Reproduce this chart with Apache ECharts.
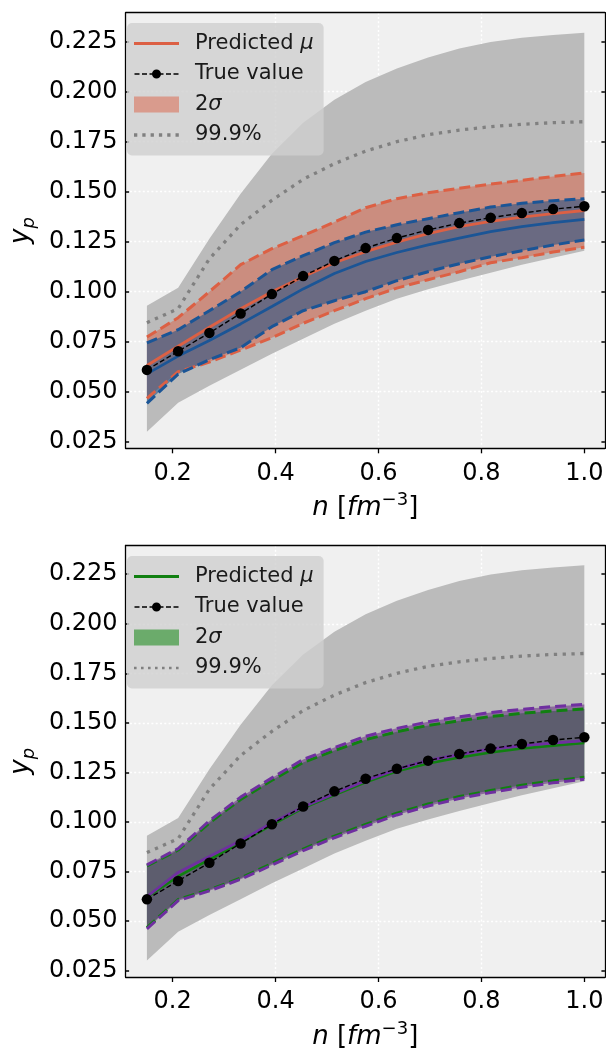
<!DOCTYPE html>
<html>
<head>
<meta charset="utf-8">
<script src="https://cdn.jsdelivr.net/npm/echarts@6/dist/echarts.min.js"></script>
<style>
  html, body { margin: 0; padding: 0; background: #ffffff; }
  #chart { width: 606px; height: 1051px; }
</style>
</head>
<body>
<div id="chart"></div>
<script>
// ---------------- data ----------------
const nValues = [0.15, 0.2107, 0.2714, 0.3321, 0.3929, 0.4536, 0.5143, 0.575, 0.6357, 0.6964, 0.7571, 0.8179, 0.8786, 0.9393, 1.0];
const trueValues = [0.0609, 0.0702, 0.0794, 0.0891, 0.0988, 0.1078, 0.1154, 0.1218, 0.1268, 0.1309, 0.1343, 0.1370, 0.1393, 0.1413, 0.1427];

const outerUpper = [0.093, 0.102, 0.1265, 0.149, 0.169, 0.1845, 0.196, 0.2048, 0.2116, 0.2171, 0.2216, 0.2248, 0.227, 0.2284, 0.2295];
const outerLower = [0.030, 0.0445, 0.053, 0.061, 0.069, 0.0765, 0.084, 0.0905, 0.0965, 0.1012, 0.1055, 0.1095, 0.1135, 0.117, 0.1205];
const line999 = [0.0845, 0.0915, 0.1165, 0.1335, 0.1457, 0.1562, 0.164, 0.1703, 0.175, 0.1785, 0.1808, 0.1825, 0.1837, 0.1845, 0.185];

// top panel
const orangeMu = [0.0631, 0.0727, 0.0822, 0.0915, 0.1000, 0.1075, 0.1145, 0.1200, 0.1248, 0.1290, 0.1325, 0.1352, 0.1373, 0.1390, 0.1406];
const orangeUp = [0.0773, 0.0870, 0.1000, 0.1135, 0.1215, 0.1280, 0.1348, 0.1420, 0.1465, 0.1495, 0.1517, 0.1538, 0.1557, 0.1576, 0.1594];
const orangeLo = [0.0467, 0.0600, 0.0648, 0.0708, 0.0770, 0.0842, 0.0905, 0.0965, 0.1018, 0.1060, 0.1100, 0.1145, 0.1170, 0.1198, 0.1222];
const blueMu = [0.0589, 0.0678, 0.0756, 0.0839, 0.0926, 0.1014, 0.1091, 0.1151, 0.1196, 0.1234, 0.1268, 0.1300, 0.1325, 0.1345, 0.1362];
const blueUp = [0.0744, 0.0810, 0.0905, 0.1000, 0.1110, 0.1180, 0.1245, 0.1298, 0.1335, 0.1365, 0.1395, 0.1423, 0.1442, 0.1455, 0.1465];
const blueLo = [0.0442, 0.0588, 0.0660, 0.0720, 0.0825, 0.0905, 0.0955, 0.1000, 0.1055, 0.1100, 0.1140, 0.1175, 0.1205, 0.1233, 0.1259];

// bottom panel
const greenMu = [0.0620, 0.0725, 0.0810, 0.0895, 0.0985, 0.1070, 0.1135, 0.1200, 0.1255, 0.1295, 0.1325, 0.1350, 0.1370, 0.1385, 0.1398];
const greenUp = [0.0778, 0.0858, 0.0995, 0.1113, 0.1210, 0.1300, 0.1360, 0.1415, 0.1455, 0.1487, 0.1510, 0.1532, 0.1548, 0.1560, 0.1570];
const greenLo = [0.0466, 0.0608, 0.0658, 0.0716, 0.0790, 0.0863, 0.0928, 0.0987, 0.1044, 0.1090, 0.1128, 0.1158, 0.1185, 0.1207, 0.1225];
const purpleMu = [0.0622, 0.0745, 0.0825, 0.0905, 0.0995, 0.1075, 0.1142, 0.1208, 0.1265, 0.1310, 0.1340, 0.1368, 0.1385, 0.1398, 0.1410];
const purpleUp = [0.0783, 0.0865, 0.1005, 0.1125, 0.1222, 0.1315, 0.1375, 0.1432, 0.1472, 0.1505, 0.1530, 0.1552, 0.1568, 0.1582, 0.1593];
const purpleLo = [0.0460, 0.0602, 0.0652, 0.0710, 0.0782, 0.0855, 0.0920, 0.0978, 0.1035, 0.1080, 0.1118, 0.1148, 0.1175, 0.1197, 0.1215];

const xTicks = [0.2, 0.4, 0.6, 0.8, 1.0];
const yTicks = [0.025, 0.05, 0.075, 0.1, 0.125, 0.15, 0.175, 0.2, 0.225];
const legendNames = ['Predicted μ', 'True value', '2σ', '99.9%'];

// ---------------- styling ----------------
const FONT = 'DejaVu Sans';
const X_MIN = 0.1086, X_MAX = 1.04;
const Y_MIN = 0.0217, Y_MAX = 0.2395;
const GRID_LEFT = 116, GRID_W = 489, GRID_H = 435.6;
const GRID_TOPS = [12.7, 545.5];

const C_ORANGE = '#dc6044', C_BLUE = '#1b5596', C_GREEN = '#118011', C_PURPLE = '#6f2fa0';
const F_GRAY = '#bbbbbb';
const F_ORANGE = 'rgba(220,96,68,0.5)';
const F_BLUE = 'rgba(10,72,133,0.5)';
const F_GREEN = 'rgba(0,128,0,0.5)';
const F_PURPLE = 'rgba(93,29,127,0.5)';

function pairs(ys) { return nValues.map((x, i) => [x, ys[i]]); }

function band(name, g, upper, lower, color) {
  return {
    type: 'custom', name: name, xAxisIndex: g * 2, yAxisIndex: g * 2,
    data: [[nValues[0], lower[0]]], silent: true, z: 2,
    renderItem: function (params, api) {
      const pts = [];
      for (let i = 0; i < nValues.length; i++) pts.push(api.coord([nValues[i], upper[i]]));
      for (let i = nValues.length - 1; i >= 0; i--) pts.push(api.coord([nValues[i], lower[i]]));
      return { type: 'polygon', shape: { points: pts }, style: { fill: color, stroke: null } };
    }
  };
}

function line(name, g, ys, color, width, dash) {
  return {
    type: 'line', name: name, xAxisIndex: g * 2, yAxisIndex: g * 2,
    data: pairs(ys), symbol: 'none', showSymbol: false, silent: true, z: 3,
    lineStyle: { color: color, width: width, type: dash || 'solid', cap: 'butt' },
    itemStyle: { color: color }
  };
}

function trueSeries(g) {
  return {
    type: 'line', name: legendNames[1], xAxisIndex: g * 2, yAxisIndex: g * 2,
    data: pairs(trueValues), symbol: 'circle', symbolSize: 10.5, showSymbol: true, silent: true, z: 4,
    lineStyle: { color: '#000', width: 1.4, type: [5, 2.6] },
    itemStyle: { color: '#000', borderWidth: 0 }
  };
}

const axisNameStyle = {
  color: '#000', fontFamily: FONT, fontSize: 26,
  rich: {
    i: { fontStyle: 'italic', fontFamily: FONT, fontSize: 26, lineHeight: 34, color: '#000' },
    r: { fontFamily: FONT, fontSize: 26, lineHeight: 34, color: '#000' },
    s: { fontFamily: FONT, fontSize: 18, lineHeight: 18, verticalAlign: 'top', color: '#000' },
    b: { fontStyle: 'italic', fontFamily: FONT, fontSize: 18, lineHeight: 18, verticalAlign: 'bottom', color: '#000' }
  }
};

function xAxes(g) {
  return [
    {
      type: 'value', gridIndex: g, position: 'bottom', min: X_MIN, max: X_MAX,
      minInterval: 0.2, maxInterval: 0.2,
      name: '{i|n}{r| [}{i|fm}{s|−3}{r|]}', nameLocation: 'middle', nameGap: 43,
      nameTextStyle: axisNameStyle,
      axisLine: { show: true, onZero: false, lineStyle: { color: '#000', width: 1.3 } },
      axisTick: { show: true, inside: false, length: 5, customValues: xTicks, lineStyle: { color: '#000', width: 1.3 } },
      axisLabel: { show: true, customValues: xTicks, margin: 13, fontSize: 24, fontFamily: FONT, color: '#000',
                   formatter: v => Number(v).toFixed(1) },
      splitLine: { show: true, showMinLine: false, showMaxLine: false, lineStyle: { color: '#ffffff', width: 1.4, type: [2, 2.3] } }
    },
    {
      type: 'value', gridIndex: g, position: 'top', min: X_MIN, max: X_MAX,
      axisLine: { show: true, onZero: false, lineStyle: { color: '#000', width: 1.3 } },
      axisTick: { show: false }, axisLabel: { show: false }, splitLine: { show: false }
    }
  ];
}

function yAxes(g) {
  return [
    {
      type: 'value', gridIndex: g, position: 'left', min: Y_MIN, max: Y_MAX,
      minInterval: 0.025, maxInterval: 0.025,
      name: '{i|y}{b|p}', nameLocation: 'middle', nameGap: 82, nameRotate: 90,
      nameTextStyle: axisNameStyle,
      axisLine: { show: true, onZero: false, lineStyle: { color: '#000', width: 1.3 } },
      axisTick: { show: true, inside: true, length: 3.5, customValues: yTicks, lineStyle: { color: '#000', width: 1.5 } },
      axisLabel: { show: true, customValues: yTicks, margin: 8, fontSize: 24, fontFamily: FONT, color: '#000',
                   formatter: v => Number(v).toFixed(3) },
      splitLine: { show: true, showMinLine: false, showMaxLine: false, lineStyle: { color: '#ffffff', width: 1.4, type: [2, 2.3] } }
    },
    {
      type: 'value', gridIndex: g, position: 'right', min: Y_MIN, max: Y_MAX,
      axisLine: { show: true, onZero: false, lineStyle: { color: '#000', width: 1.3 } },
      axisTick: { show: true, inside: true, length: 3.5, customValues: yTicks, lineStyle: { color: '#000', width: 1.5 } },
      axisLabel: { show: false }, splitLine: { show: false }
    }
  ];
}

// legend icons (box 56 x 16, drawn part 0..45)
const BOX = 'M0,0M56,16';
const ICON_LINE = 'path://' + BOX + 'M0,6.6H45V9.4H0Z';
const ICON_RECT = 'path://' + BOX + 'M0,0H45V16H0Z';
const ICON_TRUE = 'path://' + BOX +
  'M0.5,7.3h5v1.4h-5zM8,7.3h5v1.4h-5zM15.5,7.3h3v1.4h-3zM26.5,7.3h3v1.4h-3zM32,7.3h5v1.4h-5zM39.5,7.3h5v1.4h-5z' +
  'M27,8A4.5,4.5 0 1,1 18,8A4.5,4.5 0 1,1 27,8Z';
function dotIcon(n, size, step) {
  let p = 'path://' + BOX;
  const y0 = 8 - size / 2;
  for (let k = 0; k < n; k++) p += 'M' + (k * step).toFixed(2) + ',' + y0 + 'h' + size + 'v' + size + 'h-' + size + 'z';
  return p;
}

function legend(top, muColor, patchColor, dotI) {
  return {
    left: 127, top: top, orient: 'vertical', selectedMode: false,
    itemWidth: 56, itemHeight: 16, itemGap: 9.5,
    padding: [10, 10, 10, 7], backgroundColor: 'rgba(208,208,208,0.8)', borderRadius: 5,
    textStyle: { fontFamily: FONT, fontSize: 21, lineHeight: 21, color: '#1a1a1a',
                 rich: { it: { fontFamily: FONT, fontSize: 21, lineHeight: 21, fontStyle: 'italic', color: '#1a1a1a' } } },
    formatter: function (name) { return name.replace('μ', '{it|μ}').replace('σ', '{it|σ}'); },
    data: [
      { name: legendNames[0], icon: ICON_LINE, itemStyle: { color: muColor, borderWidth: 0, opacity: 1 } },
      { name: legendNames[1], icon: ICON_TRUE, itemStyle: { color: '#000', borderWidth: 0, opacity: 1 } },
      { name: legendNames[2], icon: ICON_RECT, itemStyle: { color: patchColor, borderWidth: 0, opacity: 1 } },
      { name: legendNames[3], icon: dotI, itemStyle: { color: '#808080', borderWidth: 0, opacity: 1 } }
    ]
  };
}

const DASH = [11, 5];
const DOT = [3.3, 5.5];

const series = [
  // ---- top panel ----
  band('outer-top', 0, outerUpper, outerLower, F_GRAY),
  band(legendNames[2], 0, orangeUp, orangeLo, F_ORANGE),
  band('blue band', 0, blueUp, blueLo, F_BLUE),
  line('orange upper', 0, orangeUp, C_ORANGE, 3, DASH),
  line('orange lower', 0, orangeLo, C_ORANGE, 3, DASH),
  line('blue upper', 0, blueUp, C_BLUE, 3, DASH),
  line('blue lower', 0, blueLo, C_BLUE, 3, DASH),
  line(legendNames[3], 0, line999, '#808080', 3.3, DOT),
  line(legendNames[0], 0, orangeMu, C_ORANGE, 2.8),
  line('blue mu', 0, blueMu, C_BLUE, 2.8),
  trueSeries(0),
  // ---- bottom panel ----
  band('outer-bottom', 1, outerUpper, outerLower, F_GRAY),
  band('green band', 1, greenUp, greenLo, F_GREEN),
  band('purple band', 1, purpleUp, purpleLo, F_PURPLE),
  line('green upper', 1, greenUp, C_GREEN, 3, DASH),
  line('green lower', 1, greenLo, C_GREEN, 3, DASH),
  line('purple upper', 1, purpleUp, C_PURPLE, 3, DASH),
  line('purple lower', 1, purpleLo, C_PURPLE, 3, DASH),
  line('99.9% bottom', 1, line999, '#808080', 3.3, DOT),
  line('green mu', 1, greenMu, C_GREEN, 2.6),
  line('purple mu', 1, purpleMu, C_PURPLE, 2.8),
  trueSeries(1)
];

const option = {
  animation: false,
  backgroundColor: '#ffffff',
  grid: GRID_TOPS.map(t => ({
    left: GRID_LEFT, top: t, width: GRID_W, height: GRID_H,
    show: true, backgroundColor: '#f0f0f0', borderWidth: 0, containLabel: false
  })),
  xAxis: xAxes(0).concat(xAxes(1)),
  yAxis: yAxes(0).concat(yAxes(1)),
  legend: [
    legend(23, C_ORANGE, F_ORANGE, dotIcon(6, 3.3, 8.3)),
    legend(556, C_GREEN, F_GREEN, dotIcon(7, 2.6, 7.0))
  ],
  series: series
};

const chart = echarts.init(document.getElementById('chart'), null, { renderer: 'canvas' });
chart.setOption(option);
</script>
</body>
</html>
